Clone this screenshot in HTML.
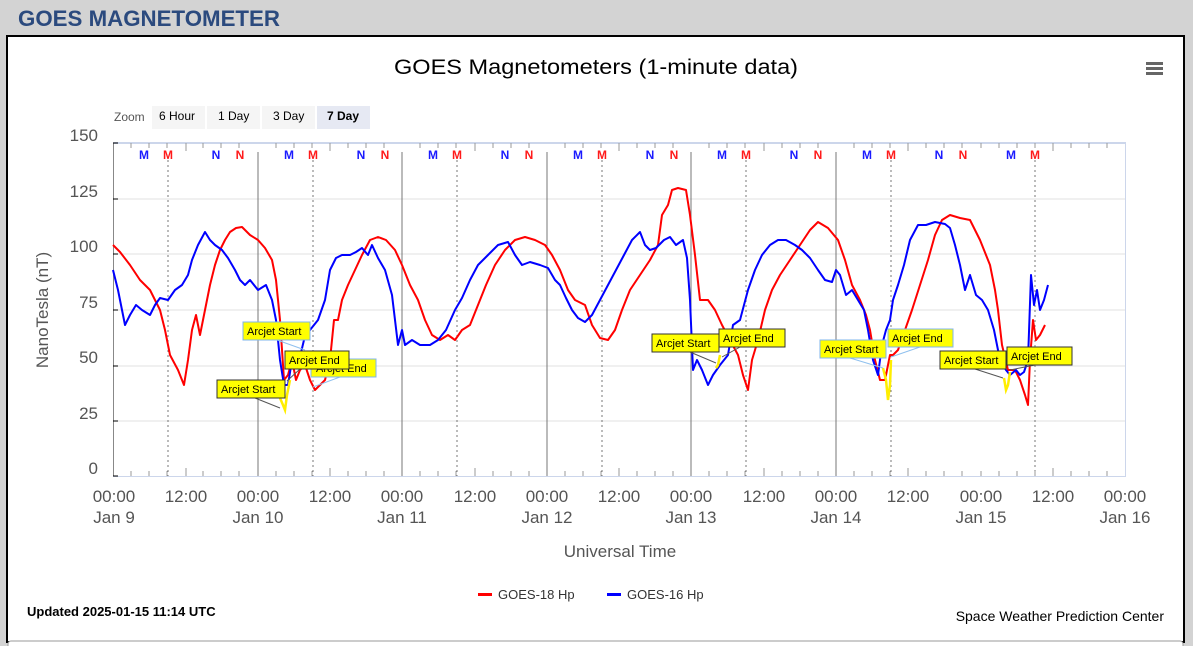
<!DOCTYPE html>
<html><head><meta charset="utf-8">
<style>
html,body{margin:0;padding:0;background:#d3d3d3;width:1193px;height:646px;overflow:hidden;font-family:"Liberation Sans",sans-serif;}
</style></head><body>
<svg width="1193" height="646" xmlns="http://www.w3.org/2000/svg" style="position:absolute;left:0;top:0">
<rect x="0" y="0" width="1193" height="646" fill="#d3d3d3"/>
<text x="18" y="26" font-family="Liberation Sans, sans-serif" font-weight="bold" font-size="22" fill="#2b4a7e" textLength="262" lengthAdjust="spacingAndGlyphs">GOES MAGNETOMETER</text>
<rect x="7" y="36" width="1177" height="606" fill="#fff" stroke="#000" stroke-width="2"/>
<rect x="8" y="641" width="1175" height="8" rx="3" fill="#fff" stroke="#999" stroke-width="1"/>
<text x="394" y="74" font-family="Liberation Sans, sans-serif" font-size="21" fill="#000" textLength="404" lengthAdjust="spacingAndGlyphs">GOES Magnetometers (1-minute data)</text>
<g fill="#666"><rect x="1146" y="62" width="17" height="3"/><rect x="1146" y="67" width="17" height="3"/><rect x="1146" y="72" width="17" height="3"/></g>
<text x="114" y="121" font-size="12" fill="#555">Zoom</text>
<rect x="152" y="106" width="53" height="23" fill="#f5f5f5"/><text x="159" y="120" font-size="12" fill="#000">6 Hour</text>
<rect x="207" y="106" width="53" height="23" fill="#f5f5f5"/><text x="218" y="120" font-size="12" fill="#000">1 Day</text>
<rect x="262" y="106" width="53" height="23" fill="#f5f5f5"/><text x="273" y="120" font-size="12" fill="#000">3 Day</text>
<rect x="317" y="106" width="53" height="23" fill="#e6e9f3"/><text x="327" y="120" font-size="12" font-weight="bold" fill="#000">7 Day</text>
<!-- grid -->
<g stroke="#e0e0e0" stroke-width="1">
<line x1="113" y1="199" x2="1125" y2="199"/><line x1="113" y1="254" x2="1125" y2="254"/>
<line x1="113" y1="310" x2="1125" y2="310"/><line x1="113" y1="366" x2="1125" y2="366"/>
<line x1="113" y1="421" x2="1125" y2="421"/>
</g>
<line x1="113" y1="143" x2="1126" y2="143" stroke="#ccd6eb" stroke-width="2"/>
<line x1="113" y1="476.5" x2="1126" y2="476.5" stroke="#ccd6eb" stroke-width="1"/>
<line x1="1125.5" y1="143" x2="1125.5" y2="476" stroke="#ccd6eb" stroke-width="1"/>
<line x1="113.5" y1="143" x2="113.5" y2="476" stroke="#888" stroke-width="1"/>
<g stroke="#000" stroke-width="1"><line x1="113" y1="143" x2="118" y2="143"/><line x1="113" y1="199" x2="118" y2="199"/><line x1="113" y1="254" x2="118" y2="254"/><line x1="113" y1="310" x2="118" y2="310"/><line x1="113" y1="366" x2="118" y2="366"/><line x1="113" y1="421" x2="118" y2="421"/><line x1="113" y1="476" x2="118" y2="476"/></g>
<g font-size="17" fill="#555" text-anchor="end" font-family="Liberation Sans, sans-serif">
<text x="98" y="141">150</text><text x="98" y="197">125</text><text x="98" y="252">100</text><text x="98" y="308">75</text><text x="98" y="363">50</text><text x="98" y="419">25</text><text x="98" y="474">0</text>
</g>
<text transform="translate(48,310) rotate(-90)" text-anchor="middle" font-size="17" fill="#555">NanoTesla (nT)</text>
<!-- day lines, dotted lines, ticks -->
<g stroke="#777" stroke-width="1">
<line x1="258" y1="152" x2="258" y2="476"/><line x1="402" y1="152" x2="402" y2="476"/><line x1="547" y1="152" x2="547" y2="476"/><line x1="691" y1="152" x2="691" y2="476"/><line x1="836" y1="152" x2="836" y2="476"/>
</g>
<g stroke="#777" stroke-width="1" stroke-dasharray="2,3">
<line x1="168" y1="160" x2="168" y2="476"/><line x1="313" y1="160" x2="313" y2="476"/><line x1="457" y1="160" x2="457" y2="476"/><line x1="602" y1="160" x2="602" y2="476"/><line x1="746" y1="160" x2="746" y2="476"/><line x1="891" y1="160" x2="891" y2="476"/><line x1="1035" y1="160" x2="1035" y2="476"/>
</g>
<g id="tk" stroke="#999" stroke-width="1">
<path d="M131 143v5M149 143v5M167 143v5M186 143v8M203 143v5M221 143v5M239 143v5M276 143v5M294 143v5M312 143v5M330 143v8M348 143v5M366 143v5M384 143v5M420 143v5M438 143v5M456 143v5M475 143v8M493 143v5M511 143v5M529 143v5M565 143v5M583 143v5M601 143v5M619 143v8M637 143v5M655 143v5M673 143v5M709 143v5M727 143v5M745 143v5M764 143v8M782 143v5M800 143v5M818 143v5M854 143v5M872 143v5M890 143v5M908 143v8M926 143v5M944 143v5M962 143v5M981 143v5M999 143v5M1017 143v5M1035 143v5M1053 143v8M1071 143v5M1089 143v5M1107 143v5"/>
<path d="M131 476v-5M149 476v-5M167 476v-5M186 476v-8M203 476v-5M221 476v-5M239 476v-5M276 476v-5M294 476v-5M312 476v-5M330 476v-8M348 476v-5M366 476v-5M384 476v-5M420 476v-5M438 476v-5M456 476v-5M475 476v-8M493 476v-5M511 476v-5M529 476v-5M565 476v-5M583 476v-5M601 476v-5M619 476v-8M637 476v-5M655 476v-5M673 476v-5M709 476v-5M727 476v-5M745 476v-5M764 476v-8M782 476v-5M800 476v-5M818 476v-5M854 476v-5M872 476v-5M890 476v-5M908 476v-8M926 476v-5M944 476v-5M962 476v-5M981 476v-5M999 476v-5M1017 476v-5M1035 476v-5M1053 476v-8M1071 476v-5M1089 476v-5M1107 476v-5"/>
</g>
<g font-size="12" font-weight="bold" text-anchor="middle">
<text x="144" y="159" fill="#1a1aff">M</text><text x="168" y="159" fill="#ff1a1a">M</text><text x="216" y="159" fill="#1a1aff">N</text><text x="240" y="159" fill="#ff1a1a">N</text>
<text x="289" y="159" fill="#1a1aff">M</text><text x="313" y="159" fill="#ff1a1a">M</text><text x="361" y="159" fill="#1a1aff">N</text><text x="385" y="159" fill="#ff1a1a">N</text>
<text x="433" y="159" fill="#1a1aff">M</text><text x="457" y="159" fill="#ff1a1a">M</text><text x="505" y="159" fill="#1a1aff">N</text><text x="529" y="159" fill="#ff1a1a">N</text>
<text x="578" y="159" fill="#1a1aff">M</text><text x="602" y="159" fill="#ff1a1a">M</text><text x="650" y="159" fill="#1a1aff">N</text><text x="674" y="159" fill="#ff1a1a">N</text>
<text x="722" y="159" fill="#1a1aff">M</text><text x="746" y="159" fill="#ff1a1a">M</text><text x="794" y="159" fill="#1a1aff">N</text><text x="818" y="159" fill="#ff1a1a">N</text>
<text x="867" y="159" fill="#1a1aff">M</text><text x="891" y="159" fill="#ff1a1a">M</text><text x="939" y="159" fill="#1a1aff">N</text><text x="963" y="159" fill="#ff1a1a">N</text>
<text x="1011" y="159" fill="#1a1aff">M</text><text x="1035" y="159" fill="#ff1a1a">M</text>
</g>
<!-- series -->
<polyline fill="none" stroke="#ff0000" stroke-width="2" stroke-linejoin="round" points="113,245 120,252 130,265 140,280 150,290 160,310 165,330 170,355 178,370 184,385 188,360 192,330 196,315 200,335 205,310 210,285 215,265 220,250 225,240 230,232 236,228 242,227 250,235 258,240 265,248 272,260 276,280 280,320 284,380 288,375 292,360 296,380 300,370 305,365 310,380 315,390 320,385 325,380 330,360 334,320 338,320 342,300 348,285 355,270 362,255 370,240 378,237 386,240 395,250 402,265 410,285 418,300 425,320 432,335 440,340 448,335 455,340 462,330 470,325 478,305 486,285 495,265 505,250 515,240 525,237 535,240 545,245 552,255 560,270 568,290 575,300 585,305 592,325 600,338 608,340 615,330 622,310 630,290 640,275 650,260 658,245 662,215 668,205 672,190 678,188 686,190 690,215 695,255 700,300 708,300 715,310 722,325 730,340 738,355 743,375 748,390 752,360 758,340 765,310 772,290 780,275 790,260 800,245 810,230 818,222 828,228 838,240 845,260 852,285 860,300 866,315 870,330 875,360 880,380 885,380 890,355 893,355 898,350 905,330 912,310 920,285 928,260 935,235 942,220 950,215 960,218 970,220 980,240 990,265 995,290 998,310 1002,345 1008,370 1015,370 1020,380 1025,395 1028,405 1030,360 1033,320 1036,340 1040,335 1045,325"/>
<polyline fill="none" stroke="#0000ff" stroke-width="2" stroke-linejoin="round" points="113,270 118,290 125,325 130,315 136,305 142,310 150,315 155,305 160,298 168,300 175,290 182,285 188,275 192,260 198,245 205,232 210,240 215,245 222,250 228,258 235,270 240,280 245,285 250,280 258,290 266,285 272,300 276,320 280,360 284,385 288,385 292,360 298,365 304,340 310,330 318,320 325,300 330,270 336,258 342,255 350,255 356,252 362,248 368,255 372,245 378,258 385,270 392,295 398,345 402,330 405,345 412,340 420,345 430,345 438,340 446,330 455,310 462,298 470,280 478,265 488,255 498,245 508,242 515,255 522,265 530,262 540,265 548,268 555,280 560,285 566,298 572,310 578,318 585,322 592,315 600,300 608,285 616,270 624,255 632,240 640,232 645,245 650,250 656,248 664,240 670,237 676,245 683,240 687,258 690,300 693,370 697,360 702,370 708,385 713,375 720,365 728,355 733,325 740,320 748,290 755,270 762,255 770,245 778,240 786,240 795,245 802,250 810,258 818,270 825,280 832,282 836,270 840,275 846,295 852,290 858,300 864,310 868,330 873,360 878,375 882,345 886,330 890,320 893,300 898,285 904,265 910,240 918,225 926,225 935,222 945,224 950,228 955,245 960,265 965,290 970,275 976,295 982,300 988,310 994,330 1000,360 1006,370 1010,375 1016,370 1020,375 1024,372 1028,360 1031,275 1034,305 1037,290 1040,310 1044,300 1048,285"/>
<!-- yellow arcjet segments -->
<g fill="none" stroke="#ffee00" stroke-width="2.5">
<polyline points="280,398 283,405 285,410 287,395 290,380"/>
<polyline points="716,368 718,365 720,355"/>
<polyline points="883,368 886,380 888,400 890,385 891,360"/>
<polyline points="1004,378 1006,390 1008,385 1010,372"/>
</g>
<!-- connector lines -->
<g stroke="#555" stroke-width="1">
<line x1="255" y1="398" x2="280" y2="408"/><line x1="300" y1="369" x2="287" y2="381"/>
<line x1="690" y1="352" x2="716" y2="363"/><line x1="740" y1="347" x2="722" y2="357"/>
<line x1="975" y1="369" x2="1003" y2="378"/><line x1="1035" y1="365" x2="1010" y2="370"/>
</g>
<g stroke="#8fc0ee" stroke-width="1">
<line x1="277" y1="340" x2="305" y2="350"/><line x1="340" y1="377" x2="313" y2="387"/>
<line x1="850" y1="358" x2="883" y2="368"/><line x1="920" y1="347" x2="891" y2="357"/>
</g>
<!-- labels -->
<g font-size="11" fill="#000" font-family="Liberation Sans, sans-serif">
<rect x="311" y="359" width="65" height="18" fill="#ffff00" stroke="#7fb4ec"/><text x="316" y="372">Arcjet End</text>
<rect x="243" y="322" width="67" height="18" fill="#ffff00" stroke="#7fb4ec"/><text x="247" y="335">Arcjet Start</text>
<rect x="285" y="351" width="64" height="18" fill="#ffff00" stroke="#333"/><text x="289" y="364">Arcjet End</text>
<rect x="217" y="380" width="68" height="18" fill="#ffff00" stroke="#333"/><text x="221" y="393">Arcjet Start</text>
<rect x="652" y="334" width="67" height="18" fill="#ffff00" stroke="#333"/><text x="656" y="347">Arcjet Start</text>
<rect x="719" y="329" width="66" height="18" fill="#ffff00" stroke="#333"/><text x="723" y="342">Arcjet End</text>
<rect x="820" y="340" width="66" height="18" fill="#ffff00" stroke="#7fb4ec"/><text x="824" y="353">Arcjet Start</text>
<rect x="888" y="329" width="65" height="18" fill="#ffff00" stroke="#7fb4ec"/><text x="892" y="342">Arcjet End</text>
<rect x="940" y="351" width="66" height="18" fill="#ffff00" stroke="#333"/><text x="944" y="364">Arcjet Start</text>
<rect x="1007" y="347" width="65" height="18" fill="#ffff00" stroke="#333"/><text x="1011" y="360">Arcjet End</text>
</g>
<!-- x labels -->
<g font-size="17" fill="#555" text-anchor="middle" font-family="Liberation Sans, sans-serif">
<text x="114" y="502">00:00</text><text x="114" y="523">Jan 9</text>
<text x="186" y="502">12:00</text>
<text x="258" y="502">00:00</text><text x="258" y="523">Jan 10</text>
<text x="330" y="502">12:00</text>
<text x="402" y="502">00:00</text><text x="402" y="523">Jan 11</text>
<text x="475" y="502">12:00</text>
<text x="547" y="502">00:00</text><text x="547" y="523">Jan 12</text>
<text x="619" y="502">12:00</text>
<text x="691" y="502">00:00</text><text x="691" y="523">Jan 13</text>
<text x="764" y="502">12:00</text>
<text x="836" y="502">00:00</text><text x="836" y="523">Jan 14</text>
<text x="908" y="502">12:00</text>
<text x="981" y="502">00:00</text><text x="981" y="523">Jan 15</text>
<text x="1053" y="502">12:00</text>
<text x="1125" y="502">00:00</text><text x="1125" y="523">Jan 16</text>
</g>
<text x="620" y="557" text-anchor="middle" font-size="17" fill="#555">Universal Time</text>
<rect x="478" y="593" width="14" height="3" fill="#ff0000"/><text x="498" y="599" font-size="13" fill="#333">GOES-18 Hp</text>
<rect x="607" y="593" width="14" height="3" fill="#0000ff"/><text x="627" y="599" font-size="13" fill="#333">GOES-16 Hp</text>
<text x="27" y="616" font-size="13" font-weight="bold" fill="#000">Updated 2025-01-15 11:14 UTC</text>
<text x="1164" y="621" text-anchor="end" font-size="14" fill="#000">Space Weather Prediction Center</text>
</svg>
</body></html>
